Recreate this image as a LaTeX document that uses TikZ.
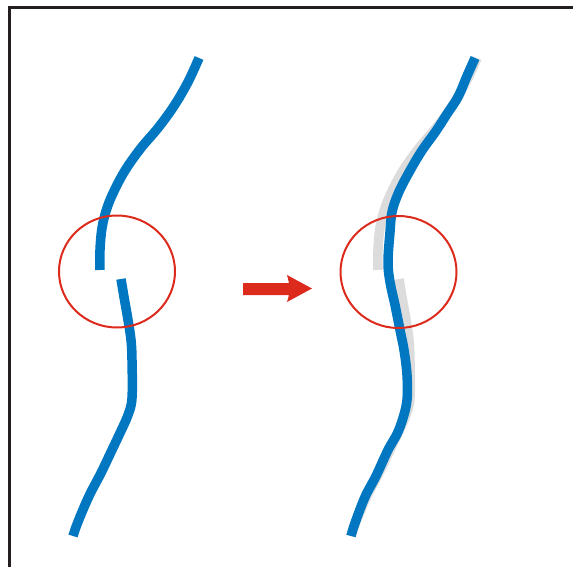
\documentclass[tikz,border=0pt]{standalone}
\usepackage{tikz}
\definecolor{cblue}{RGB}{0,119,192}
\definecolor{cred}{RGB}{220,42,28}
\definecolor{cgray}{RGB}{220,220,220}
\definecolor{cframe}{RGB}{35,31,32}
\tikzset{
  curveline/.style={line width=9.5pt, line cap=butt, line join=round},
  bluecurve/.style={curveline, draw=cblue},
  graycurve/.style={curveline, draw=cgray},
  markcircle/.style={draw=cred, line width=2pt},
  frameline/.style={draw=cframe, line width=3pt},
}
\newcommand{\brokencurve}[1]{%
  \draw[#1] plot[smooth,tension=0.6] coordinates {(199,58) (188,82) (174,106) (158,128) (141,148) (126,169) (115,189) (107,208) (102,228) (100,250) (100,270)};
  \draw[#1] plot[smooth,tension=0.6] coordinates {(121,279) (124,297) (128,320) (131,340) (132,360) (132,398) (128,415) (120,433) (111,452) (101,473) (90,494) (82,512) (76,527) (73,536)};
}
\begin{document}
\begin{tikzpicture}[x=1pt,y=-1pt]
\useasboundingbox (0,0) rectangle (573,567);
% frame
\draw[frameline] (9.5,567) -- (9.5,7.5) -- (573,7.5);
% left: broken curve
\brokencurve{bluecurve}
\draw[markcircle] (117,271.5) ellipse [x radius=58, y radius=56];
% arrow
\fill[cred] (243,283) -- (289,283) -- (287,275) -- (312,288.5) -- (287,302) -- (289,295) -- (243,295) -- cycle;
% right: original (gray) and repaired curve
\begin{scope}[xshift=278pt]
\brokencurve{graycurve}
\end{scope}
\draw[bluecurve] plot[smooth,tension=0.6] coordinates {(475,58) (467,76) (458,97) (447,114) (436,131) (421,152) (407,176) (398,194) (392,212) (390,232) (388,262) (390,282) (395,305) (400,330) (404,350) (407,375) (407,400) (403,418) (397,434) (388,450) (376,476) (365,497) (355,523) (351,536)};
\draw[markcircle] (398.5,272) ellipse [x radius=58, y radius=56];
\end{tikzpicture}
\end{document}
